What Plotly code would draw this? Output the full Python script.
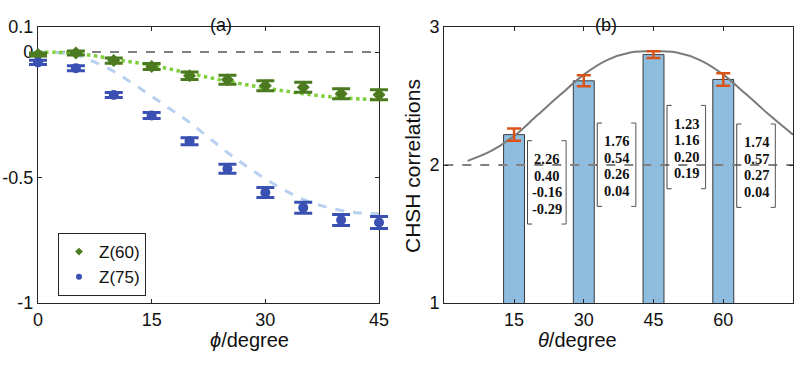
import plotly.graph_objects as go

# ---------------- data: panel (a) ----------------
phi = [0, 5, 10, 15, 20, 25, 30, 35, 40, 45]
z60 = [-0.010, -0.004, -0.034, -0.057, -0.094, -0.110, -0.134, -0.140, -0.166, -0.170]
z60_err = [0.006, 0.008, 0.010, 0.012, 0.015, 0.018, 0.020, 0.020, 0.020, 0.020]
z75 = [-0.041, -0.064, -0.171, -0.253, -0.355, -0.465, -0.560, -0.620, -0.669, -0.679]
z75_err = [0.008, 0.010, 0.010, 0.012, 0.014, 0.018, 0.020, 0.022, 0.022, 0.024]

theo_phi = [0, 2.5, 5, 7.5, 10, 12.5, 15, 17.5, 20, 22.5, 25, 27.5, 30, 32.5, 35, 37.5, 40, 42.5, 45]
theo_z60 = [0, -0.001, -0.005, -0.015, -0.028, -0.040, -0.052, -0.068, -0.085, -0.101, -0.116, -0.130, -0.143, -0.155, -0.166, -0.175, -0.182, -0.187, -0.189]
theo_z75 = [0, -0.002, -0.012, -0.040, -0.077, -0.125, -0.176, -0.228, -0.280, -0.340, -0.400, -0.455, -0.505, -0.550, -0.587, -0.613, -0.631, -0.641, -0.644]

# ---------------- data: panel (b) ----------------
theta = [15, 30, 45, 60]
chsh = [2.22, 2.61, 2.80, 2.62]
chsh_err = [0.044, 0.040, 0.025, 0.045]
box_lines = [["2.26", "0.40", "-0.16", "-0.29"],
             ["1.76", "0.54", "0.26", "0.04"],
             ["1.23", "1.16", "0.20", "0.19"],
             ["1.74", "0.57", "0.27", "0.04"]]
theo_theta = [5, 10, 15, 20, 25, 30, 35, 40, 45, 50, 55, 60, 65, 70, 75]
theo_chsh = [2.03, 2.10, 2.21, 2.36, 2.51, 2.655, 2.76, 2.815, 2.826, 2.815, 2.76, 2.655, 2.51, 2.36, 2.22]

a_yticks = [0.1, 0, -0.5, -1]
a_yticklabels = ["0.1", "0", "-0.5", "-1"]
a_xticks = [0, 15, 30, 45]
b_xticks = [15, 30, 45, 60]
b_yticks = [1, 2, 3]

# ---------------- styles ----------------
GREEN = "#4b7a20"
BLUE = "#3a50b2"
LGREEN = "#7fcf3c"
LBLUE = "#b9d1f0"
AX = "#262626"
FONT = "Liberation Sans, Arial, sans-serif"
SERIF = "Liberation Serif, Times New Roman, serif"

W, H = 800, 377
A_L, A_R = 38, 379          # panel (a) plot-area pixels
A_RANGE = [0, 45]
PAD = 2                     # extra data units for an unclipped overlay axis
px_per = (A_R - A_L) / (A_RANGE[1] - A_RANGE[0])

fig = go.Figure()

# panel (a)
fig.add_trace(go.Scatter(x=[0, 45], y=[0, 0], mode="lines", xaxis="x", yaxis="y",
                         line=dict(color="#808080", width=2, dash="dash"), showlegend=False, hoverinfo="skip"))
fig.add_trace(go.Scatter(x=theo_phi, y=theo_z75, mode="lines", xaxis="x", yaxis="y",
                         line=dict(color=LBLUE, width=3, dash="dash", shape="spline"), showlegend=False))
fig.add_trace(go.Scatter(x=theo_phi, y=theo_z60, mode="lines", xaxis="x", yaxis="y",
                         line=dict(color=LGREEN, width=3.5, dash="dot", shape="spline"), showlegend=False))
fig.add_trace(go.Scatter(x=phi, y=z60, mode="markers", name="Z(60)", xaxis="x3", yaxis="y",
                         marker=dict(symbol="diamond", size=10, color=GREEN),
                         error_y=dict(type="data", array=z60_err, color=GREEN, thickness=3, width=9),
                         cliponaxis=False, showlegend=False))
fig.add_trace(go.Scatter(x=phi, y=z75, mode="markers", name="Z(75)", xaxis="x3", yaxis="y",
                         marker=dict(symbol="circle", size=10, color=BLUE),
                         error_y=dict(type="data", array=z75_err, color=BLUE, thickness=3, width=9),
                         cliponaxis=False, showlegend=False))
# legend entries (small symbols as in the reference)
fig.add_trace(go.Scatter(x=[None], y=[None], mode="markers", name="Z(60)", xaxis="x", yaxis="y",
                         marker=dict(symbol="diamond", size=6, color=GREEN)))
fig.add_trace(go.Scatter(x=[None], y=[None], mode="markers", name="Z(75)", xaxis="x", yaxis="y",
                         marker=dict(symbol="circle", size=6, color=BLUE)))

# panel (b)
fig.add_trace(go.Bar(x=theta, y=chsh, width=4.5, xaxis="x2", yaxis="y2",
                     marker=dict(color="#8fbde0", line=dict(color="#3a3a3a", width=1)),
                     showlegend=False))
fig.add_trace(go.Scatter(x=[0, 75], y=[2, 2], mode="lines", xaxis="x2", yaxis="y2",
                         line=dict(color="#808080", width=2, dash="dash"), showlegend=False))
fig.add_trace(go.Scatter(x=theo_theta, y=theo_chsh, mode="lines", xaxis="x2", yaxis="y2",
                         line=dict(color="#7a7a7a", width=2, shape="spline"), showlegend=False))
fig.add_trace(go.Scatter(x=theta, y=chsh, mode="markers", xaxis="x2", yaxis="y2",
                         marker=dict(size=1, color="rgba(0,0,0,0)"),
                         error_y=dict(type="data", array=chsh_err, color="#d95319", thickness=2.5, width=7),
                         showlegend=False))

# bracketed text boxes
box_dx0, box_dx1 = 2.9, 11.2
box_tops = [2.176, 2.304, 2.432, 2.297]
box_h = 0.604
line_step = 0.1196
tick = 1.0
shapes = []
annotations = []
for t, top, lines in zip(theta, box_tops, box_lines):
    x0, x1 = t + box_dx0, t + box_dx1
    y0, y1 = top - box_h, top
    yc = (y0 + y1) / 2 - 0.01
    shapes.append(dict(type="path", xref="x2", yref="y2",
                       path=f"M {x0+tick},{y1} L {x0},{y1} L {x0},{y0} L {x0+tick},{y0}",
                       line=dict(color="#444444", width=1)))
    shapes.append(dict(type="path", xref="x2", yref="y2",
                       path=f"M {x1-tick},{y1} L {x1},{y1} L {x1},{y0} L {x1-tick},{y0}",
                       line=dict(color="#555555", width=1)))
    for i, s in enumerate(lines):
        annotations.append(dict(x=(x0 + x1) / 2, y=yc + (1.5 - i) * line_step, xref="x2", yref="y2",
                                text=f"<b>{s}</b>", showarrow=False,
                                font=dict(family=SERIF, size=14.5, color="#111"), align="center"))

annotations += [
    dict(text="(a)", x=208 / W, y=(H - 13) / H, xref="paper", yref="paper", showarrow=False,
         font=dict(family=FONT, size=18, color="#111")),
    dict(text="(b)", x=619 / W, y=(H - 13) / H, xref="paper", yref="paper", showarrow=False,
         font=dict(family=FONT, size=18, color="#111")),
    dict(text="<i>ϕ</i>/degree", x=208 / W, y=(H - 353) / H, xref="paper", yref="paper", showarrow=False,
         font=dict(family=FONT, size=20, color="#111")),
    dict(text="<i>θ</i>/degree", x=619 / W, y=(H - 353) / H, xref="paper", yref="paper", showarrow=False,
         font=dict(family=FONT, size=20, color="#111")),
    dict(text="CHSH correlations", x=412 / W, y=(H - 166) / H, xref="paper", yref="paper",
         showarrow=False, textangle=-90, font=dict(family=FONT, size=21, color="#111")),
]

axis_common = dict(showline=True, mirror="ticks", linecolor=AX, linewidth=1.3, ticks="inside",
                   ticklen=4, tickcolor=AX, showgrid=False, zeroline=False, automargin=False,
                   tickfont=dict(family=FONT, size=18, color="#111"))

fig.update_layout(
    template="none",
    width=W, height=H, margin=dict(l=0, r=0, t=0, b=0, pad=0, autoexpand=False),
    paper_bgcolor="white", plot_bgcolor="rgba(0,0,0,0)",
    font=dict(family=FONT),
    xaxis=dict(domain=[A_L / W, A_R / W], range=A_RANGE, tickvals=a_xticks, anchor="y", **axis_common),
    xaxis3=dict(domain=[(A_L - PAD * px_per) / W, (A_R + PAD * px_per) / W],
                range=[A_RANGE[0] - PAD, A_RANGE[1] + PAD], anchor="y", visible=False,
                showgrid=False, zeroline=False, automargin=False),
    yaxis=dict(domain=[74 / H, 350 / H], range=[-1, 0.1], tickvals=a_yticks, ticktext=a_yticklabels,
               anchor="x", **axis_common),
    xaxis2=dict(domain=[444.3 / W, 793 / W], range=[0, 75], tickvals=b_xticks, anchor="y2", **axis_common),
    yaxis2=dict(domain=[74 / H, 350 / H], range=[1, 3], tickvals=b_yticks, anchor="x2", **axis_common),
    legend=dict(x=58 / W, y=(H - 233) / H, xanchor="left", yanchor="top",
                bordercolor=AX, borderwidth=1, bgcolor="white",
                font=dict(family=FONT, size=17, color="#111"), itemwidth=30,
                tracegroupgap=0),
    shapes=shapes, annotations=annotations,
)

fig.write_html("out.html", config={"displayModeBar": False},
               post_script="document.body.style.margin='0';")
